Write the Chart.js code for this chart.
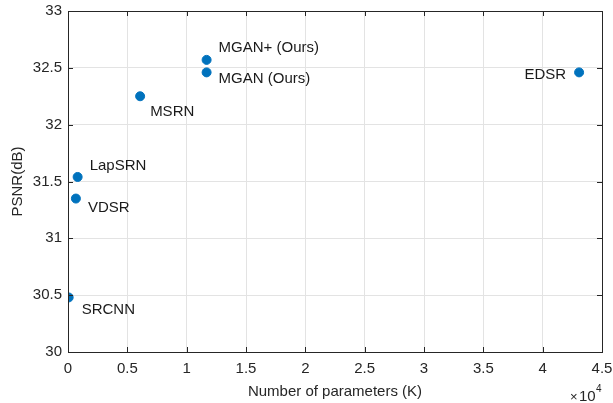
<!DOCTYPE html>
<html>
<head>
<meta charset="utf-8">
<script src="https://cdn.jsdelivr.net/npm/chart.js@4/dist/chart.umd.min.js"></script>
<style>
  html, body { margin: 0; padding: 0; background: #fff; }
  #wrap { width: 613px; height: 403px; }
</style>
</head>
<body>
<div id="wrap"><canvas id="psnrChart" width="613" height="403"></canvas></div>
<script>
// data: parameters in K, PSNR in dB
const methods = ['SRCNN', 'VDSR', 'LapSRN', 'MSRN', 'MGAN (Ours)', 'MGAN+ (Ours)', 'EDSR'];
const params = [57, 665, 812, 6078, 11680, 11680, 43070];
const psnr = [30.48, 31.35, 31.54, 32.25, 32.46, 32.57, 32.46];
const xTicks = ['0', '0.5', '1', '1.5', '2', '2.5', '3', '3.5', '4', '4.5'];
const yTicks = ['30', '30.5', '31', '31.5', '32', '32.5', '33'];

// label placement relative to the marker (style only)
const labelPos = {
	'SRCNN': [13, 12, 'left'],
	'VDSR': [12, 9, 'left'],
	'LapSRN': [12, -11, 'left'],
	'MSRN': [10, 16, 'left'],
	'MGAN (Ours)': [12, 6, 'left'],
	'MGAN+ (Ours)': [12, -12, 'left'],
	'EDSR': [-13, 2, 'right']
};

const FONT = 'Liberation Sans, Arial, Helvetica, sans-serif';
const axisColor = '#262626';

const pointLabels = {
	id: 'pointLabels',
	afterDatasetsDraw(chart) {
		const ctx = chart.ctx;
		const meta = chart.getDatasetMeta(0);
		ctx.save();
		ctx.font = '15px ' + FONT;
		ctx.fillStyle = '#1a1a1a';
		ctx.textBaseline = 'middle';
		meta.data.forEach((pt, i) => {
			const p = labelPos[methods[i]];
			ctx.textAlign = p[2];
			ctx.fillText(methods[i], pt.x + p[0], pt.y + p[1]);
		});
		ctx.restore();
	}
};

// box + inward ticks + x10^4 exponent, MATLAB style
const boxPlugin = {
	id: 'boxPlugin',
	afterDraw(chart) {
		const ctx = chart.ctx;
		const a = chart.chartArea;
		const xs = chart.scales.x, ys = chart.scales.y;
		ctx.save();
		ctx.strokeStyle = axisColor;
		ctx.lineWidth = 1;
		ctx.beginPath();
		xs.ticks.forEach(t => {
			const px = Math.round(xs.getPixelForValue(t.value)) + 0.5;
			ctx.moveTo(px, a.bottom); ctx.lineTo(px, a.bottom - 5);
			ctx.moveTo(px, a.top); ctx.lineTo(px, a.top + 5);
		});
		ys.ticks.forEach(t => {
			const py = Math.round(ys.getPixelForValue(t.value)) + 0.5;
			ctx.moveTo(a.left, py); ctx.lineTo(a.left + 5, py);
			ctx.moveTo(a.right, py); ctx.lineTo(a.right - 5, py);
		});
		ctx.stroke();
		ctx.strokeRect(Math.round(a.left) + 0.5, Math.round(a.top) + 0.5,
			Math.round(a.right - a.left), Math.round(a.bottom - a.top));
		ctx.fillStyle = axisColor;
		ctx.font = '13px ' + FONT;
		ctx.textAlign = 'left';
		ctx.textBaseline = 'alphabetic';
		ctx.fillText('\u00d7', 570, 401);
		ctx.font = '15px ' + FONT;
		ctx.fillText('10', 579, 401);
		ctx.font = '10px ' + FONT;
		ctx.fillText('4', 596, 392);
		ctx.restore();
	}
};

const ctx = document.getElementById('psnrChart').getContext('2d');

const chart = new Chart(ctx, {
	type: 'scatter',
	data: {
		datasets: [{
			data: params.map((p, i) => ({ x: p, y: psnr[i] })),
			backgroundColor: '#0072BD',
			borderColor: '#0072BD',
			pointRadius: 4.5,
			pointHoverRadius: 4.5
		}]
	},
	options: {
		responsive: false,
		animation: false,
		layout: { autoPadding: false, padding: { top: 11, right: 11, left: 0, bottom: 0 } },
		plugins: {
			legend: { display: false },
			tooltip: { enabled: false }
		},
		scales: {
			x: {
				type: 'linear',
				min: 0,
				max: 45000,
				afterFit: s => { s.height = 51; s.paddingLeft = 0; s.paddingRight = 0; },
				ticks: {
					stepSize: 5000,
					color: axisColor,
					font: { family: FONT, size: 15 },
					padding: 8,
					maxRotation: 0,
					callback: (v, i) => xTicks[i]
				},
				grid: { color: '#e3e3e3', drawTicks: false },
				border: { display: false },
				title: {
					display: true,
					text: 'Number of parameters (K)',
					color: axisColor,
					font: { family: FONT, size: 15 },
					padding: { top: 0, bottom: 2 }
				}
			},
			y: {
				type: 'linear',
				min: 30,
				max: 33,
				afterFit: s => { s.width = 68; s.paddingTop = 0; s.paddingBottom = 0; },
				ticks: {
					stepSize: 0.5,
					color: axisColor,
					font: { family: FONT, size: 15 },
					padding: 6,
					callback: (v, i) => yTicks[i]
				},
				grid: { color: '#e3e3e3', drawTicks: false },
				border: { display: false },
				title: {
					display: true,
					text: 'PSNR(dB)',
					color: axisColor,
					font: { family: FONT, size: 15 },
					padding: { top: 9, bottom: 0 }
				}
			}
		}
	},
	plugins: [pointLabels, boxPlugin]
});
</script>
</body>
</html>
